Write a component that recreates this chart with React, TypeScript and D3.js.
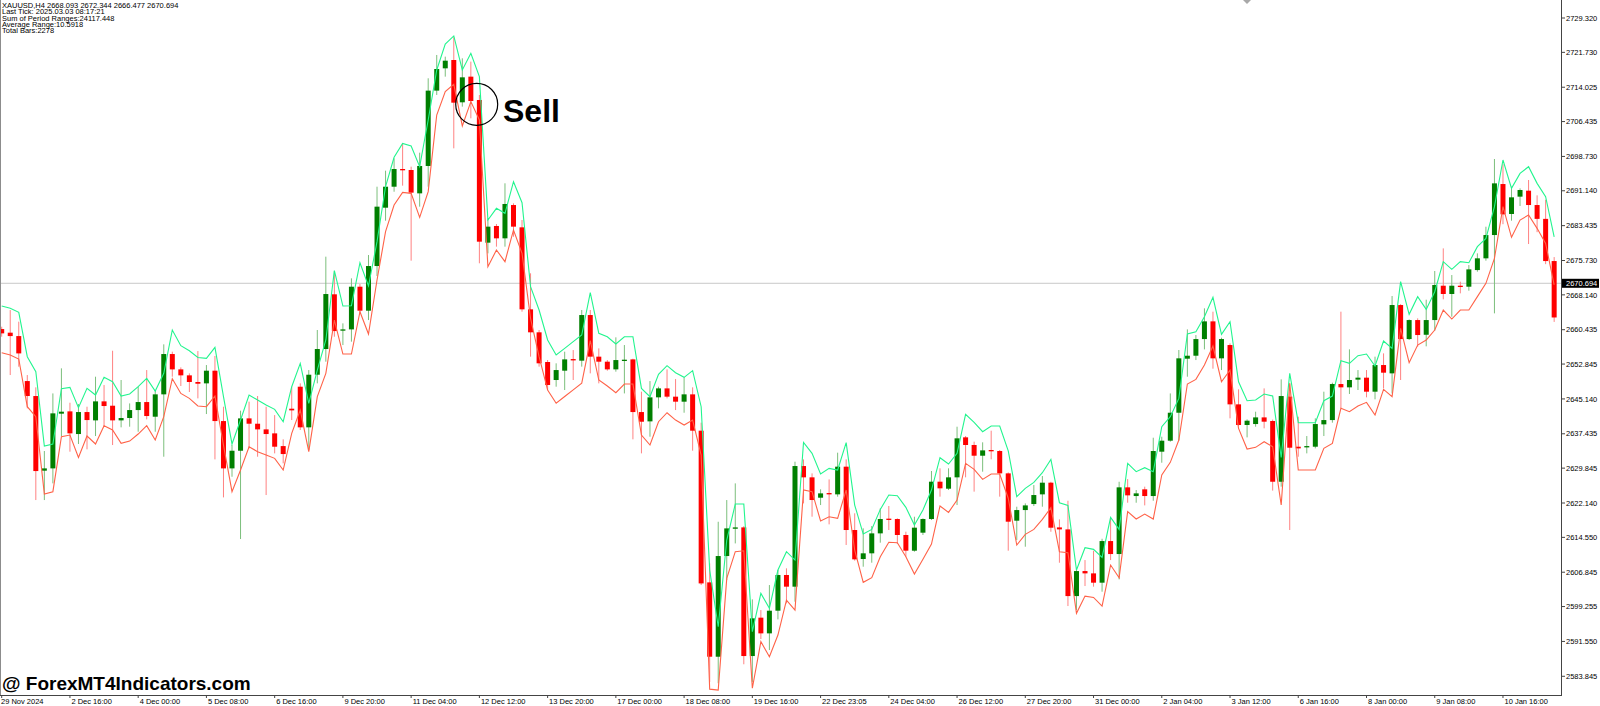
import { useEffect, useRef } from 'react'
import * as d3 from 'd3'

const INFO_LINES = [
  'XAUUSD,H4  2668.093 2672.344 2666.477 2670.694',
  'Last Tick: 2025.03.03 08:17:21',
  'Sum of Period Ranges:24117.448',
  'Average Range:10.5918',
  'Total Bars:2278',
]

const Y_TICKS = [
  '2729.320', '2721.730', '2714.025', '2706.435', '2698.730', '2691.140', '2683.435',
  '2675.730', '2668.140', '2660.435', '2652.845', '2645.140', '2637.435', '2629.845',
  '2622.140', '2614.550', '2606.845', '2599.255', '2591.550', '2583.845',
]

// one label every 8 bars
const X_TICKS = [
  '29 Nov 2024', '2 Dec 16:00', '4 Dec 00:00', '5 Dec 08:00', '6 Dec 16:00', '9 Dec 20:00',
  '11 Dec 04:00', '12 Dec 12:00', '13 Dec 20:00', '17 Dec 00:00', '18 Dec 08:00', '19 Dec 16:00',
  '22 Dec 23:05', '24 Dec 04:00', '26 Dec 12:00', '27 Dec 20:00', '31 Dec 00:00', '2 Jan 04:00',
  '3 Jan 12:00', '6 Jan 16:00', '8 Jan 00:00', '9 Jan 08:00', '10 Jan 16:00',
]

const CURRENT_PRICE = 2670.694
const PRICE_MIN = 2579.71
const PRICE_MAX = 2733.3

// [open, high, low, close]
const CANDLES: [number, number, number, number][] = [
  [2660.58, 2661.1, 2658.89, 2659.63], [2659.78, 2664.78, 2650.42, 2659.03], [2659.03, 2662.21, 2652.26, 2655.2],
  [2649.09, 2650.42, 2643.06, 2645.78], [2645.78, 2647.7, 2622.79, 2629.2], [2629.28, 2633.63, 2622.79, 2629.79],
  [2629.79, 2646.36, 2626.48, 2641.95], [2641.88, 2651.9, 2636.94, 2642.32], [2642.39, 2644.3, 2633.48, 2637.53],
  [2637.38, 2644.01, 2635.18, 2642.24], [2642.24, 2643.42, 2634.0, 2640.47], [2640.4, 2650.05, 2636.94, 2644.6],
  [2644.6, 2648.21, 2639.0, 2643.57], [2643.64, 2655.79, 2634.95, 2640.4], [2640.4, 2649.32, 2638.86, 2640.92],
  [2640.92, 2644.15, 2639.0, 2642.68], [2642.68, 2647.84, 2637.89, 2644.45], [2644.45, 2651.52, 2640.62, 2641.36],
  [2641.21, 2647.11, 2637.89, 2646.15], [2646.15, 2657.2, 2632.37, 2655.06], [2655.06, 2655.58, 2650.05, 2651.67],
  [2651.67, 2652.11, 2647.99, 2650.35], [2650.35, 2650.79, 2646.67, 2648.88], [2648.88, 2655.72, 2645.26, 2648.5],
  [2648.58, 2652.63, 2641.8, 2651.38], [2651.38, 2654.63, 2631.78, 2640.25], [2640.25, 2643.42, 2623.38, 2629.79],
  [2629.79, 2634.95, 2627.94, 2633.69], [2633.69, 2642.54, 2614.18, 2640.84], [2640.84, 2644.53, 2634.21, 2639.66],
  [2639.66, 2645.78, 2632.37, 2638.41], [2638.41, 2643.42, 2623.9, 2637.38], [2637.53, 2641.57, 2633.11, 2634.58],
  [2634.72, 2636.21, 2630.9, 2632.96], [2642.98, 2647.84, 2640.47, 2642.61], [2647.84, 2648.58, 2638.27, 2638.86],
  [2638.86, 2651.52, 2633.84, 2650.49], [2650.49, 2660.37, 2648.58, 2656.17], [2656.17, 2676.58, 2653.37, 2668.32],
  [2668.26, 2673.41, 2658.89, 2660.14], [2660.22, 2661.84, 2657.05, 2660.51], [2660.51, 2671.79, 2657.79, 2669.94],
  [2669.94, 2670.53, 2664.05, 2664.64], [2664.64, 2676.94, 2662.57, 2674.51], [2674.51, 2692.04, 2672.3, 2687.63],
  [2687.4, 2695.58, 2684.53, 2692.04], [2692.04, 2698.3, 2690.93, 2695.95], [2695.95, 2701.62, 2692.27, 2695.72],
  [2695.73, 2696.47, 2675.69, 2690.72], [2690.57, 2699.56, 2687.63, 2696.62], [2696.62, 2716.0, 2692.04, 2713.27],
  [2713.27, 2721.15, 2712.31, 2718.05], [2718.2, 2720.78, 2716.36, 2719.89], [2720.04, 2725.06, 2700.52, 2710.61],
  [2710.69, 2720.41, 2709.73, 2716.21], [2716.36, 2719.68, 2707.15, 2710.98], [2711.2, 2712.31, 2675.11, 2679.89],
  [2679.67, 2685.05, 2677.31, 2683.21], [2683.36, 2683.8, 2678.79, 2680.63], [2680.63, 2692.79, 2678.79, 2688.22],
  [2687.99, 2688.36, 2680.99, 2683.21], [2683.06, 2684.68, 2664.42, 2664.94], [2664.94, 2672.9, 2654.48, 2659.86],
  [2659.86, 2660.37, 2652.27, 2653.01], [2653.3, 2653.74, 2647.11, 2648.22], [2649.32, 2653.01, 2647.84, 2651.52],
  [2651.38, 2655.58, 2647.11, 2653.88], [2653.95, 2655.94, 2649.32, 2653.65], [2653.59, 2664.79, 2652.27, 2663.68],
  [2663.68, 2664.79, 2650.79, 2654.48], [2654.48, 2656.31, 2648.58, 2653.37], [2653.37, 2653.73, 2651.38, 2651.67],
  [2651.67, 2658.75, 2651.16, 2653.73], [2653.52, 2657.05, 2646.36, 2653.81], [2653.88, 2654.02, 2636.21, 2642.24],
  [2642.24, 2646.74, 2633.11, 2640.1], [2640.18, 2649.09, 2636.79, 2645.49], [2645.49, 2647.84, 2643.06, 2647.47],
  [2647.47, 2651.67, 2645.26, 2645.64], [2645.64, 2649.53, 2642.68, 2644.53], [2644.53, 2649.91, 2642.09, 2646.15],
  [2646.15, 2647.7, 2633.7, 2638.12], [2638.12, 2639.89, 2604.01, 2604.37], [2604.6, 2608.8, 2582.58, 2588.17],
  [2588.17, 2618.0, 2582.3, 2610.42], [2610.42, 2622.79, 2605.11, 2616.53], [2616.45, 2626.48, 2613.21, 2616.75],
  [2616.75, 2617.02, 2586.5, 2588.32], [2588.32, 2600.84, 2582.6, 2596.65], [2596.8, 2598.48, 2592.08, 2593.33],
  [2593.33, 2604.01, 2589.64, 2598.34], [2598.34, 2607.33, 2596.42, 2606.23], [2606.23, 2607.7, 2599.96, 2603.65],
  [2603.65, 2631.27, 2600.33, 2630.31], [2630.31, 2631.78, 2622.06, 2627.81], [2627.81, 2628.69, 2619.11, 2622.8],
  [2623.31, 2625.16, 2621.69, 2624.27], [2624.34, 2627.36, 2617.42, 2624.05], [2624.05, 2633.26, 2623.54, 2630.17],
  [2630.17, 2631.79, 2612.86, 2616.17], [2616.17, 2619.86, 2609.4, 2609.69], [2609.76, 2616.54, 2608.06, 2611.02],
  [2611.02, 2617.05, 2608.95, 2615.43], [2615.43, 2620.96, 2613.37, 2618.6], [2618.68, 2621.48, 2616.17, 2618.45],
  [2618.6, 2618.75, 2613.08, 2615.07], [2615.07, 2615.8, 2610.28, 2611.6], [2611.6, 2619.11, 2611.38, 2616.69],
  [2615.58, 2618.75, 2615.07, 2618.6], [2618.6, 2629.21, 2618.38, 2626.85], [2626.85, 2629.8, 2623.54, 2625.38],
  [2625.3, 2629.8, 2625.01, 2627.81], [2627.81, 2639.0, 2621.69, 2636.43], [2636.65, 2636.94, 2627.81, 2634.96],
  [2634.96, 2635.7, 2624.65, 2632.59], [2632.59, 2635.55, 2629.06, 2633.77], [2633.85, 2638.12, 2631.79, 2633.63],
  [2633.63, 2633.85, 2623.54, 2628.69], [2628.69, 2628.9, 2611.6, 2618.01], [2618.23, 2621.32, 2613.96, 2620.58],
  [2620.58, 2622.06, 2612.48, 2621.61], [2621.91, 2626.11, 2621.47, 2623.9], [2624.05, 2628.1, 2621.32, 2626.63],
  [2626.63, 2626.83, 2615.79, 2616.68], [2616.75, 2618.52, 2608.94, 2616.31], [2616.31, 2622.64, 2599.37, 2601.57],
  [2601.57, 2607.7, 2598.48, 2607.1], [2607.1, 2609.53, 2603.79, 2606.59], [2606.59, 2611.59, 2603.65, 2604.53],
  [2604.53, 2614.24, 2602.54, 2613.73], [2613.73, 2618.75, 2609.53, 2610.86], [2610.86, 2626.84, 2605.26, 2625.6],
  [2625.6, 2627.43, 2622.2, 2623.83], [2623.68, 2625.01, 2622.2, 2624.27], [2625.16, 2625.75, 2621.61, 2623.68],
  [2623.68, 2636.57, 2622.64, 2633.63], [2633.48, 2636.79, 2631.04, 2635.91], [2635.91, 2646.36, 2635.69, 2642.09],
  [2642.09, 2655.95, 2635.91, 2654.11], [2654.03, 2660.51, 2650.05, 2654.69], [2654.69, 2659.26, 2653.73, 2658.37],
  [2658.37, 2665.16, 2656.09, 2662.28], [2662.28, 2664.42, 2651.82, 2654.11], [2654.11, 2658.67, 2651.52, 2658.37],
  [2657.05, 2657.42, 2640.85, 2643.94], [2643.94, 2647.26, 2639.15, 2639.38], [2639.38, 2640.62, 2636.64, 2640.33],
  [2639.59, 2642.32, 2639.0, 2641.06], [2641.06, 2647.47, 2638.64, 2640.11], [2640.26, 2640.57, 2624.88, 2626.84],
  [2626.84, 2649.46, 2625.75, 2645.78], [2645.64, 2648.58, 2616.17, 2634.36], [2634.58, 2641.21, 2632.37, 2634.21],
  [2634.43, 2636.94, 2633.11, 2634.72], [2634.58, 2640.85, 2634.21, 2639.59], [2639.52, 2646.74, 2636.94, 2640.47],
  [2640.47, 2648.73, 2639.89, 2648.43], [2648.43, 2664.42, 2643.06, 2647.7], [2647.7, 2656.1, 2646.23, 2649.32],
  [2649.4, 2651.52, 2647.11, 2649.84], [2649.84, 2651.52, 2645.49, 2646.74], [2646.74, 2654.48, 2645.05, 2652.63],
  [2652.63, 2655.21, 2647.47, 2650.94], [2650.79, 2667.88, 2646.37, 2665.89], [2665.89, 2666.09, 2649.32, 2658.37],
  [2658.37, 2662.72, 2658.16, 2662.57], [2662.57, 2662.95, 2656.69, 2659.26], [2659.32, 2667.07, 2656.76, 2662.57],
  [2662.57, 2673.41, 2660.2, 2670.31], [2670.16, 2678.41, 2667.15, 2668.33], [2668.33, 2672.52, 2663.31, 2670.16],
  [2670.16, 2671.05, 2668.47, 2669.94], [2669.94, 2674.73, 2669.06, 2673.77], [2673.62, 2677.31, 2673.26, 2676.21],
  [2676.21, 2683.2, 2675.69, 2681.36], [2681.36, 2698.16, 2664.05, 2692.78], [2692.63, 2697.0, 2683.75, 2685.93],
  [2686.01, 2692.04, 2684.53, 2689.69], [2689.84, 2691.67, 2687.78, 2691.31], [2691.16, 2693.52, 2679.37, 2687.99],
  [2687.99, 2690.13, 2681.99, 2684.93], [2684.93, 2689.15, 2674.92, 2675.61], [2675.61, 2676.49, 2662.16, 2663.14],
]

// upper (green) band
const UPPER = [
  2665.67, 2665.16, 2664.27, 2654.47, 2651.16, 2634.72, 2635.18, 2647.4, 2647.7, 2643.2,
  2647.47, 2646.0, 2649.91, 2648.94, 2645.78, 2646.23, 2647.84, 2649.68, 2646.88, 2650.79,
  2660.37, 2656.9, 2655.79, 2654.31, 2654.11, 2656.54, 2645.64, 2635.18, 2640.47, 2646.0,
  2644.89, 2643.79, 2642.83, 2640.1, 2647.84, 2653.0, 2644.15, 2651.52, 2658.16, 2673.48,
  2665.67, 2665.74, 2675.24, 2670.09, 2679.89, 2692.04, 2698.53, 2701.62, 2701.03, 2696.47,
  2706.78, 2717.83, 2723.58, 2725.35, 2717.83, 2721.51, 2716.36, 2684.68, 2687.26, 2686.16,
  2693.15, 2688.51, 2669.94, 2664.79, 2658.16, 2654.84, 2656.31, 2657.8, 2659.27, 2668.62,
  2659.63, 2658.89, 2657.28, 2658.89, 2658.89, 2647.47, 2645.64, 2650.56, 2652.49, 2650.94,
  2649.91, 2651.38, 2643.42, 2607.33, 2594.8, 2613.96, 2621.91, 2621.91, 2593.69, 2602.17,
  2598.86, 2607.33, 2611.38, 2609.53, 2635.54, 2633.11, 2628.54, 2629.8, 2629.43, 2635.47,
  2621.69, 2615.28, 2616.31, 2620.73, 2623.9, 2623.75, 2621.18, 2617.28, 2620.58, 2625.01,
  2632.15, 2630.75, 2633.11, 2641.73, 2639.96, 2637.9, 2639.15, 2639.15, 2633.65, 2623.53,
  2625.37, 2626.7, 2628.84, 2631.78, 2622.2, 2621.61, 2607.33, 2612.26, 2611.89, 2610.12,
  2618.96, 2616.3, 2630.9, 2629.06, 2629.95, 2629.06, 2639.0, 2641.21, 2645.26, 2659.48,
  2660.0, 2663.31, 2667.59, 2659.41, 2662.21, 2648.94, 2644.75, 2644.9, 2646.23, 2645.78,
  2632.22, 2650.79, 2639.89, 2639.89, 2639.89, 2644.75, 2645.78, 2653.59, 2653.0, 2654.69,
  2655.07, 2652.41, 2657.93, 2656.31, 2671.05, 2663.83, 2667.74, 2664.93, 2668.84, 2675.47,
  2673.77, 2675.47, 2675.24, 2678.79, 2680.62, 2687.63, 2697.94, 2691.67, 2694.99, 2696.46,
  2692.78, 2689.84, 2680.97,
]

// lower (red) band
const LOWER = [
  2655.35, 2654.84, 2653.96, 2643.42, 2641.21, 2624.12, 2624.64, 2636.79, 2637.16, 2632.22,
  2636.94, 2635.18, 2639.23, 2638.27, 2635.32, 2635.83, 2637.38, 2639.23, 2636.06, 2641.21,
  2649.61, 2646.36, 2645.26, 2643.57, 2643.42, 2645.78, 2634.95, 2624.64, 2629.43, 2634.58,
  2633.48, 2632.74, 2632.01, 2629.43, 2637.53, 2642.68, 2633.48, 2645.64, 2650.79, 2662.57,
  2655.06, 2655.06, 2664.42, 2659.48, 2671.42, 2682.1, 2687.99, 2690.79, 2690.57, 2685.27,
  2690.94, 2707.88, 2713.04, 2714.66, 2705.46, 2710.84, 2706.78, 2674.37, 2678.05, 2675.47,
  2682.48, 2677.31, 2662.95, 2654.48, 2647.11, 2644.2, 2645.68, 2647.15, 2648.62, 2658.04,
  2649.32, 2647.99, 2646.52, 2648.43, 2648.43, 2637.16, 2634.95, 2640.1, 2642.09, 2640.47,
  2639.38, 2640.47, 2632.74, 2581.0, 2580.8, 2605.48, 2611.38, 2611.59, 2581.2, 2591.49,
  2588.17, 2592.96, 2600.69, 2598.48, 2625.01, 2624.65, 2618.16, 2619.11, 2618.75, 2625.01,
  2611.75, 2604.61, 2605.64, 2610.28, 2613.45, 2613.37, 2610.28, 2606.44, 2609.69, 2613.08,
  2621.48, 2620.07, 2622.8, 2630.91, 2629.58, 2627.36, 2628.54, 2628.54, 2623.2, 2612.85,
  2615.21, 2616.3, 2618.52, 2621.1, 2611.38, 2611.15, 2597.75, 2601.57, 2601.28, 2599.37,
  2608.43, 2605.63, 2620.22, 2618.6, 2619.7, 2618.6, 2628.33, 2631.12, 2636.06, 2648.43,
  2649.46, 2652.63, 2656.83, 2648.94, 2651.52, 2638.64, 2634.07, 2634.44, 2635.69, 2634.59,
  2621.69, 2648.58, 2629.43, 2629.43, 2629.43, 2634.21, 2635.32, 2643.06, 2642.32, 2643.58,
  2644.38, 2641.58, 2647.26, 2645.64, 2660.74, 2653.14, 2657.05, 2658.16, 2660.37, 2664.79,
  2662.8, 2664.79, 2664.79, 2667.74, 2670.68, 2676.21, 2687.63, 2680.85, 2684.67, 2685.78,
  2682.84, 2679.5, 2670.35,
]

const FONT = '"Liberation Sans", Arial, sans-serif'

export default function App() {
  const svgRef = useRef<SVGSVGElement>(null)

  useEffect(() => {
    if (!svgRef.current) return
    const W = 1600
    const H = 706
    const axisX = 1561
    const axisY = 695
    const step = 8.53

    const svg = d3.select(svgRef.current).attr('viewBox', `0 0 ${W} ${H}`)
    svg.selectAll('*').remove()

    svg.append('rect').attr('width', W).attr('height', H).attr('fill', '#fff')
    svg.append('defs').append('clipPath').attr('id', 'plot-clip')
      .append('rect').attr('x', 0).attr('y', 0).attr('width', axisX).attr('height', axisY)

    const x = d3.scaleLinear().domain([0, CANDLES.length - 1]).range([1.7, 1.7 + step * (CANDLES.length - 1)])
    const y = d3.scaleLinear().domain([PRICE_MIN, PRICE_MAX]).range([axisY, 0])

    const plot = svg.append('g').attr('clip-path', 'url(#plot-clip)')

    // bid line
    plot.append('line').attr('x1', 0).attr('x2', axisX)
      .attr('y1', y(CURRENT_PRICE)).attr('y2', y(CURRENT_PRICE))
      .attr('stroke', '#c8c8c8').attr('stroke-width', 1)

    // candles
    const bodyW = 5
    CANDLES.forEach(([o, h, l, c], i) => {
      const up = c >= o
      const cx = x(i)
      plot.append('line').attr('x1', cx).attr('x2', cx).attr('y1', y(h)).attr('y2', y(l))
        .attr('stroke', up ? '#7cbf7c' : '#ff8282').attr('stroke-width', 1)
      const top = y(Math.max(o, c))
      const hgt = Math.max(1.3, y(Math.min(o, c)) - top)
      plot.append('rect').attr('x', cx - bodyW / 2).attr('y', top)
        .attr('width', bodyW).attr('height', hgt)
        .attr('fill', up ? '#007f00' : '#ff0000')
    })

    // bands
    const line = d3.line<number>().x((_, i) => x(i)).y((d) => y(d))
    plot.append('path').datum(UPPER).attr('d', line).attr('fill', 'none')
      .attr('stroke', '#22f58e').attr('stroke-width', 1.1)
    plot.append('path').datum(LOWER).attr('d', line).attr('fill', 'none')
      .attr('stroke', '#ff6248').attr('stroke-width', 1.1)

    // chart shift marker
    svg.append('path').attr('d', 'M1243,0L1251,0L1247,4Z').attr('fill', '#a8a8a8')

    // Sell annotation
    svg.append('circle').attr('cx', 476.7).attr('cy', 104.3).attr('r', 21)
      .attr('fill', 'none').attr('stroke', '#000').attr('stroke-width', 1.2)
    svg.append('text').attr('x', 503).attr('y', 121.5)
      .attr('font-family', FONT).attr('font-size', 32).attr('font-weight', 700)
      .attr('fill', '#000').text('Sell')

    // watermark
    svg.append('text').attr('x', 2).attr('y', 690)
      .attr('font-family', FONT).attr('font-size', 19).attr('font-weight', 700)
      .attr('fill', '#000').text('@ ForexMT4Indicators.com')

    // info block
    INFO_LINES.forEach((t, i) => {
      svg.append('text').attr('x', 2).attr('y', 7.7 + i * 6.43)
        .attr('font-family', FONT).attr('font-size', 7.5).attr('fill', '#000').text(t)
    })

    // frame
    svg.append('line').attr('x1', 0.5).attr('x2', 0.5).attr('y1', 0).attr('y2', axisY)
      .attr('stroke', '#8c8c8c')
    svg.append('line').attr('x1', 0).attr('x2', axisX).attr('y1', axisY + 0.5).attr('y2', axisY + 0.5)
      .attr('stroke', '#444')
    svg.append('line').attr('x1', axisX + 0.5).attr('x2', axisX + 0.5).attr('y1', 0).attr('y2', axisY + 1)
      .attr('stroke', '#444')

    // price axis
    Y_TICKS.forEach((t) => {
      const py = y(parseFloat(t))
      svg.append('line').attr('x1', axisX).attr('x2', axisX + 4).attr('y1', py).attr('y2', py)
        .attr('stroke', '#444')
      svg.append('text').attr('x', axisX + 5).attr('y', py + 2.7)
        .attr('font-family', FONT).attr('font-size', 7.5).attr('fill', '#000').text(t)
    })
    const cy = y(CURRENT_PRICE)
    svg.append('rect').attr('x', axisX + 1).attr('y', cy - 4.5).attr('width', 37).attr('height', 9).attr('fill', '#000')
    svg.append('text').attr('x', axisX + 5).attr('y', cy + 2.7)
      .attr('font-family', FONT).attr('font-size', 7.5).attr('fill', '#fff').text(CURRENT_PRICE.toFixed(3))

    // time axis
    X_TICKS.forEach((t, k) => {
      const tx = x(k * 8)
      svg.append('line').attr('x1', tx).attr('x2', tx).attr('y1', axisY).attr('y2', axisY + 3)
        .attr('stroke', '#444')
      svg.append('text').attr('x', k === 0 ? 1 : tx + 1.5).attr('y', 704.3)
        .attr('font-family', FONT).attr('font-size', 7.5).attr('fill', '#000').text(t)
    })

    return () => { svg.selectAll('*').remove() }
  }, [])

  return (
    <svg ref={svgRef} width={1600} height={706}
      style={{ position: 'absolute', left: 0, top: 0, display: 'block' }} />
  )
}
